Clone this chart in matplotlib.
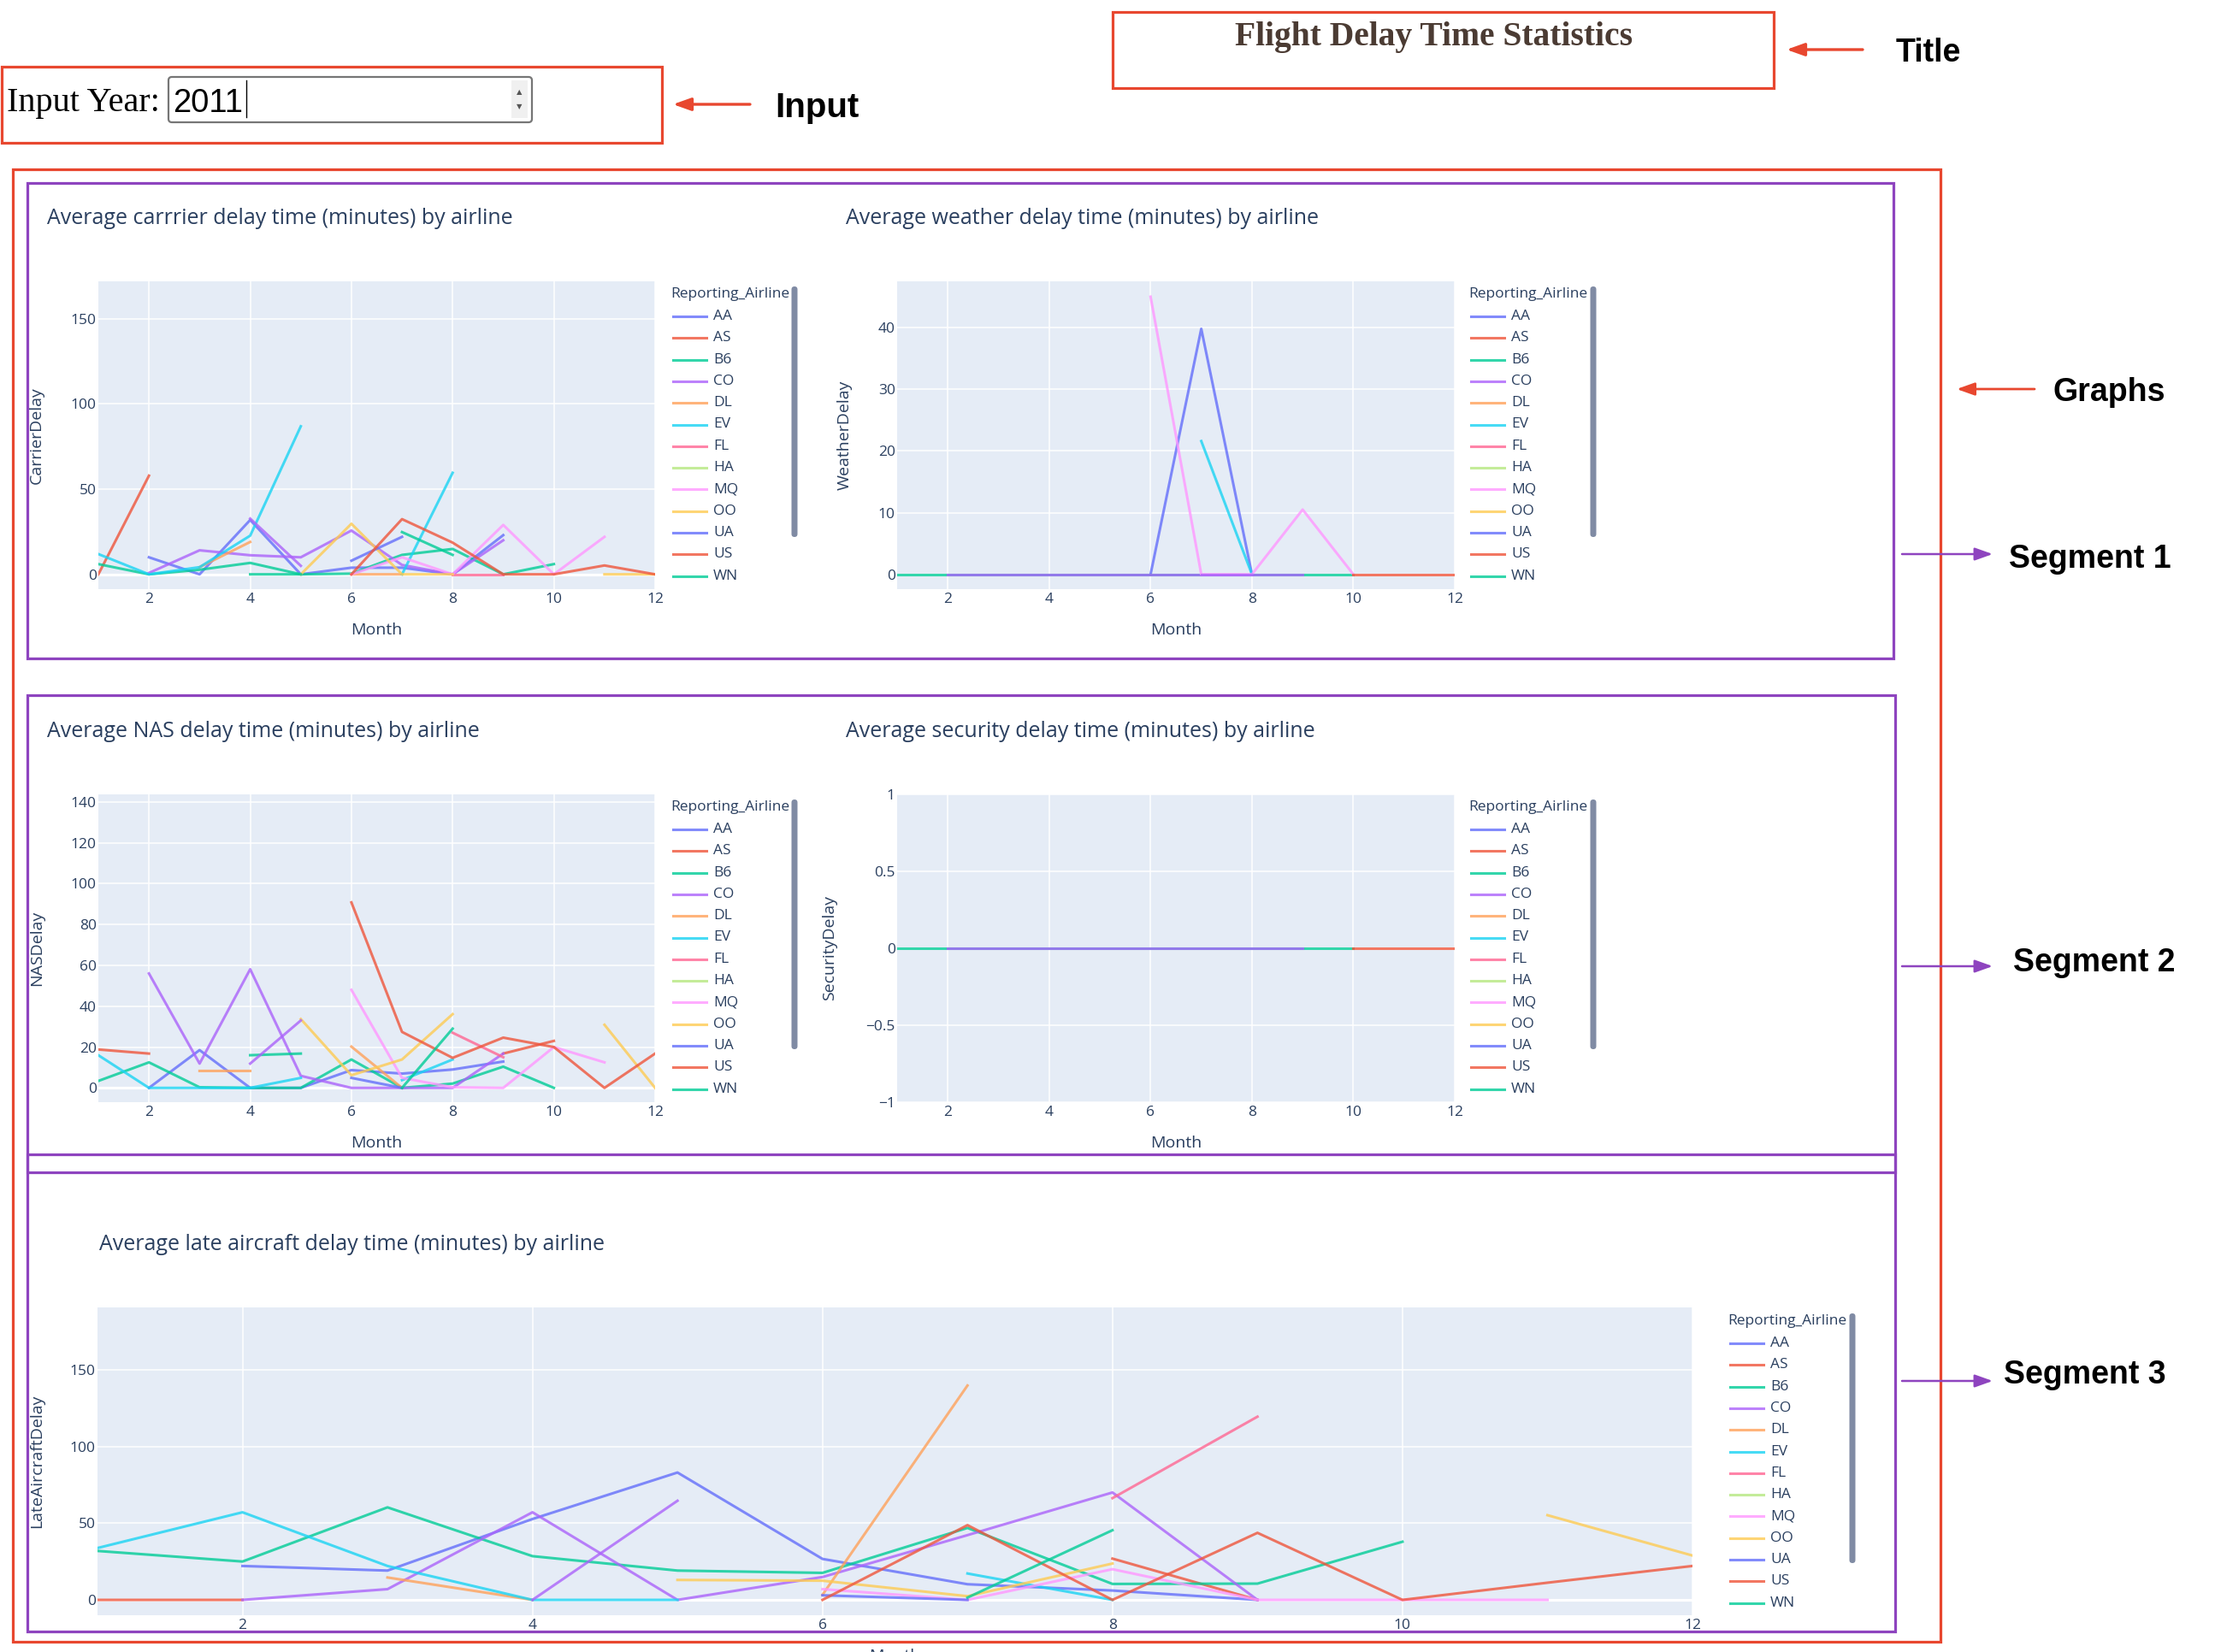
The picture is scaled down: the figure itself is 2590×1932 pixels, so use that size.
import numpy as np
import matplotlib.pyplot as plt
from matplotlib.patches import Rectangle, FancyBboxPatch

plt.rcParams["font.family"] = ["Open Sans", "DejaVu Sans"]

# DATA (monthly averages per airline, 2011; None = no value that month)
N = None
MONTHS = np.arange(1, 13)
AIRLINES = ["AA", "AS", "B6", "CO", "DL", "EV", "FL", "HA", "MQ", "OO",
            "UA", "US", "WN", "XE", "YV"]
LEGEND_COUNT = 13  # the rest are scrolled out of the legend
COLORS = ["#636EFA", "#EF553B", "#00CC96", "#AB63FA", "#FFA15A",
          "#19D3F3", "#FF6692", "#B6E880", "#FF97FF", "#FECB52"]

carrier_delay = {
    "AA": [N, 10, 0, 31.9, 0, 3.9, 3.9, 0, 23, N, N, N],
    "AS": [0, 57.9, N, N, N, N, N, N, N, N, N, N],
    "B6": [6, 0, 2.7, 6.7, 0, 0.4, 11.4, 14.9, 0, 6, N, N],
    "CO": [N, 0.8, 14.1, 11.2, 10, 25.7, 5.5, 0, 20, N, N, N],
    "DL": [N, N, 4.2, 19, N, 0, 0, N, N, N, N, N],
    "EV": [11.9, 0, 4.2, 22.7, 86.9, N, 0, 59.6, N, N, N, N],
    "FL": [N, N, N, N, N, N, N, 0, 0, N, N, N],
    "MQ": [N, N, N, N, N, 0, 10, 0, 29, 0, 22, N],
    "OO": [N, N, N, N, 0, 29.7, 0, 0, N, N, 0, 0],
    "UA": [N, N, N, N, N, 8, 22, N, N, N, N, N],
    "US": [N, N, N, N, N, 0, 32.4, 18.6, 0, 0, 5.2, 0],
    "WN": [N, N, N, 0, 0, N, 24.8, 11.4, N, N, N, N],
    "XE": [N, N, N, 32.7, 5, N, N, N, N, N, N, N],
}

weather_delay = {
    "AA": [N, N, N, N, N, 0, 39.8, 0, N, N, N, N],
    "B6": [0, 0, 0, 0, 0, 0, 0, 0, 0, 0, N, N],
    "CO": [N, 0, 0, 0, 0, 0, 0, 0, 0, N, N, N],
    "EV": [N, N, N, N, N, N, 21.6, 0, N, N, N, N],
    "MQ": [N, N, N, N, N, 45, 0, 0, 10.5, 0, N, N],
    "US": [N, N, N, N, N, N, N, N, N, 0, 0, 0],
    "XE": [N, N, N, N, N, N, 0, 0, N, N, N, N],
}

nas_delay = {
    "AA": [N, 0, 18.5, 0, 0, 8.7, 7, 9, 12.9, N, N, N],
    "AS": [18.8, 16.8, N, N, N, N, N, N, 16.8, 23, N, N],
    "B6": [3.4, 12.5, 0.3, 0, 0, 13.9, 0, 2.1, 10.4, 0, N, N],
    "CO": [N, 56, 11.9, 58.1, 5.9, 0, 0, 0, 16.8, N, N, N],
    "DL": [N, N, 8.3, 8.3, N, 20.2, 0, N, N, N, N, N],
    "EV": [16, 0, 0, 0, 4.9, N, 3.8, 13.9, N, N, N, N],
    "FL": [N, N, N, N, N, N, N, 27, 15, N, N, N],
    "MQ": [N, N, N, N, N, 48, 4.9, 0.3, 0, 20, 12.5, N],
    "OO": [N, N, N, N, 33.7, 6.2, 13.9, 36.1, N, N, 30.9, 0],
    "UA": [N, N, N, N, N, 4.9, 0, N, N, N, N, N],
    "US": [N, N, N, N, N, 90.8, 27.4, 14.7, 24.6, 20, 0, 16.8],
    "WN": [N, N, N, 16, 16.8, N, 0, 29, N, N, N, N],
    "XE": [N, N, N, 11.9, 33, N, N, N, N, N, N, N],
}

security_delay = {
    "B6": [0, 0, 0, 0, 0, 0, 0, 0, 0, 0, N, N],
    "CO": [N, 0, 0, 0, 0, 0, 0, 0, 0, N, N, N],
    "US": [N, N, N, N, N, N, N, N, N, 0, 0, 0],
}

late_aircraft_delay = {
    "AA": [N, 22.1, 19.1, 52.7, 83, 26.7, 10.2, 6.1, 0, N, N, N],
    "AS": [0, 0, N, N, N, N, N, 26.9, 0, N, N, N],
    "B6": [31.9, 25, 60.3, 28.5, 19.1, 17.6, 46.9, 10.4, 10.6, 37.9, N, N],
    "CO": [N, 0, 7, 57.1, 0, 14.9, 42.2, 70, 0, N, N, N],
    "DL": [N, N, 14.6, 0, N, 3.3, 139.7, N, N, N, N, N],
    "EV": [33.8, 57.1, 22.1, 0, 0, N, 17.2, 0, N, N, N, N],
    "FL": [N, N, N, N, N, N, N, 66.3, 119.4, N, N, N],
    "MQ": [N, N, N, N, N, 7, 0, 20, 0, 0, 0, N],
    "OO": [N, N, N, N, 13, 12.5, 2.4, 23.7, N, N, 55.2, 28.9],
    "UA": [N, N, N, N, N, 3, 0, N, N, N, N, N],
    "US": [N, N, N, N, N, 0, 48.7, 0, 43.7, 0, 11.2, 22.1],
    "WN": [N, N, N, N, N, N, 1.5, 45.4, N, N, N, N],
    "XE": [N, N, N, 0, 64.6, N, N, N, N, N, N, N],
}

# LAYOUT (pixels, origin top-left)
W, H = 2590, 1932
INK = "#2a3f5f"
RED = "#E8472F"
PURPLE = "#8E44BF"
TITLE_BROWN = "#4B3B33"
LINE_ALPHA = 0.8

fig = plt.figure(figsize=(W / 100, H / 100), dpi=100)
fig.patch.set_facecolor("white")


# One plotly-style line panel; box given in pixels.
def add_panel(box, data, ylabel, ylim, yticks, ylabel_gap, yticklabels=None):
    x0, y0, x1, y1 = box
    ax = fig.add_axes([x0 / W, 1 - y1 / H, (x1 - x0) / W, (y1 - y0) / H])
    ax.set_facecolor("#E5ECF6")
    ax.grid(True, color="white", lw=1.1)
    ax.set_axisbelow(True)
    ax.axhline(0, color="white", lw=2.3, zorder=1.5)
    for i, code in enumerate(AIRLINES):
        y = np.array(data.get(code, [N] * 12), dtype=float)
        ax.plot(MONTHS, y, color=COLORS[i % len(COLORS)], lw=2.2,
                alpha=LINE_ALPHA, zorder=2)
    ax.set_xlim(1, 12)
    ax.set_ylim(*ylim)
    ax.set_xticks(range(2, 13, 2))
    ax.set_yticks(yticks)
    if yticklabels is not None:
        ax.set_yticklabels(yticklabels)
    ax.tick_params(axis="both", length=0, labelsize=12.5, labelcolor=INK)
    ax.tick_params(axis="x", pad=3)
    ax.tick_params(axis="y", pad=1.5)
    for s in ax.spines.values():
        s.set_visible(False)
    w, h = x1 - x0, y1 - y0
    ax.text(0.5, -48 / h, "Month", transform=ax.transAxes, ha="center",
            va="center", fontsize=14, color=INK)
    ax.text(-ylabel_gap / w, 0.5, ylabel, transform=ax.transAxes, rotation=90,
            ha="center", va="center", fontsize=14, color=INK)
    return ax


add_panel((115, 329, 766, 689), carrier_delay, "CarrierDelay",
          (-8.7, 172), [0, 50, 100, 150], 72)
add_panel((1049, 329, 1701, 689), weather_delay, "WeatherDelay",
          (-2.4, 47.5), [0, 10, 20, 30, 40], 61)
add_panel((115, 929, 766, 1289), nas_delay, "NASDelay",
          (-7, 143.7), list(range(0, 141, 20)), 72)
add_panel((1049, 929, 1701, 1289), security_delay, "SecurityDelay",
          (-1, 1), [-1, -0.5, 0, 0.5, 1], 79,
          ["\u22121", "\u22120.5", "0", "0.5", "1"])
add_panel((114, 1529, 1979, 1889), late_aircraft_delay, "LateAircraftDelay",
          (-10, 190.6), [0, 50, 100, 150], 71)

# overlay in pixel coordinates for boxes, arrows and page text
ov = fig.add_axes([0, 0, 1, 1])
ov.set_xlim(0, W)
ov.set_ylim(H, 0)
ov.axis("off")
ov.patch.set_visible(False)
ov.set_zorder(10)


def outline(x0, y0, x1, y1, color, lw):
    ov.add_patch(Rectangle((x0, y0), x1 - x0, y1 - y0, fill=False,
                           ec=color, lw=lw))


def arrow(tail, head, color, lw):
    ov.annotate("", xy=head, xytext=tail,
                arrowprops=dict(arrowstyle="-|>,head_length=0.7,head_width=0.25",
                                color=color, lw=lw, shrinkA=0, shrinkB=0,
                                mutation_scale=18))


def legend(x, y_title, scroll_x, scroll_top, scroll_bottom):
    ov.text(x, y_title, "Reporting_Airline", ha="left", va="center",
            fontsize=12.5, color=INK)
    for i, code in enumerate(AIRLINES[:LEGEND_COUNT]):
        yy = y_title + 26 + i * 25.3
        ov.plot([x + 3, x + 42], [yy, yy], color=COLORS[i % len(COLORS)],
                lw=2.2, alpha=LINE_ALPHA)
        ov.text(x + 50, yy, code, ha="left", va="center", fontsize=12.5,
                color=INK)
    ov.add_patch(FancyBboxPatch((scroll_x - 3.5, scroll_top), 7,
                                scroll_bottom - scroll_top,
                                boxstyle="round,pad=0,rounding_size=3.5",
                                fc="#808BA4", ec="none"))


# panel titles
for (tx, ty, txt) in [
    (55, 255, "Average carrrier delay time (minutes) by airline"),
    (989, 255, "Average weather delay time (minutes) by airline"),
    (55, 856, "Average NAS delay time (minutes) by airline"),
    (989, 856, "Average security delay time (minutes) by airline"),
    (116, 1456, "Average late aircraft delay time (minutes) by airline"),
]:
    ov.text(tx, ty, txt, ha="left", va="center", fontsize=18, color=INK)

legend(784, 344, 929, 335, 628)
legend(1717, 344, 1863, 335, 628)
legend(784, 944, 929, 935, 1227)
legend(1717, 944, 1863, 935, 1227)
legend(2020, 1545, 2166, 1536, 1828)

# segment and page boxes
outline(32, 214, 2214, 770, PURPLE, 2.3)
outline(32, 813, 2216, 1371, PURPLE, 2.3)
outline(32, 1350, 2216, 1908, PURPLE, 2.3)
outline(15, 198, 2269, 1920, RED, 2.3)
outline(1301, 14, 2074, 103, RED, 2.3)
outline(2, 78, 774, 167, RED, 2.3)

# page title and input
ov.text(1677, 53, "Flight Delay Time Statistics", ha="center", va="baseline",
        fontsize=28.5, fontweight="bold", family="Liberation Serif",
        color=TITLE_BROWN)
ov.text(8, 130, "Input Year:", ha="left", va="baseline", fontsize=29,
        family="Liberation Serif", color="black")
ov.add_patch(FancyBboxPatch((197, 90), 425, 53,
                            boxstyle="round,pad=0,rounding_size=4",
                            fc="white", ec="#767676", lw=1.6))
ov.add_patch(Rectangle((598, 94), 19, 44, fc="#F0F0F0", ec="none"))
ov.text(607, 108, "\u25b2", ha="center", va="center", fontsize=6,
        family="DejaVu Sans", color="#555555")
ov.text(607, 125, "\u25bc", ha="center", va="center", fontsize=6,
        family="DejaVu Sans", color="#555555")
ov.text(202, 131, "2011", ha="left", va="baseline", fontsize=27.5,
        family="Liberation Sans", color="black")
ov.plot([288, 288], [94, 137], color="black", lw=1)

# annotations
ann = dict(ha="left", va="baseline", fontsize=27, fontweight="bold",
           family="Liberation Sans", color="black")
arrow((2178, 58), (2089, 58), RED, 2.4)
ov.text(2217, 72, "Title", **ann)
arrow((877, 122), (787, 122), RED, 2.4)
ov.text(906, 137, "Input", fontsize=29, **{k: v for k, v in ann.items() if k != "fontsize"})
arrow((2379, 455), (2288, 455), RED, 2.0)
ov.text(2401, 469, "Graphs", **ann)
arrow((2224, 648), (2330, 648), PURPLE, 1.8)
ov.text(2349, 664, "Segment 1", **ann)
arrow((2224, 1130), (2330, 1130), PURPLE, 1.8)
ov.text(2354, 1136, "Segment 2", **ann)
arrow((2224, 1615), (2330, 1615), PURPLE, 1.8)
ov.text(2343, 1618, "Segment 3", **ann)

fig.savefig("out.png", dpi=100)
